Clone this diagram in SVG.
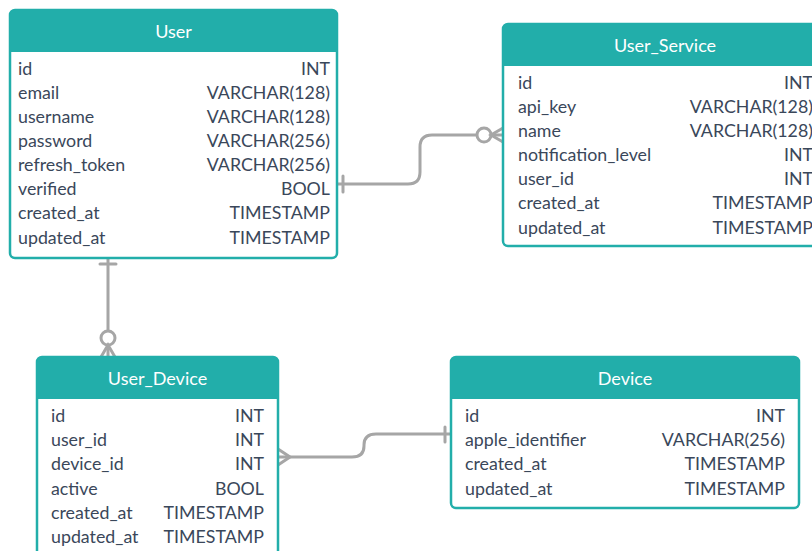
<svg xmlns="http://www.w3.org/2000/svg" width="812" height="551" viewBox="0 0 812 551">
<style>
.box{fill:#fff;stroke:#22aeaa;stroke-width:2.5}
.hdr{fill:#22aeaa}
.title{font-family:Lato,"Liberation Sans",sans-serif;font-size:18px;fill:#fff;text-anchor:middle}
.f{font-family:Lato,"Liberation Sans",sans-serif;font-size:17.8px;fill:#3a475a}
.t{font-family:Lato,"Liberation Sans",sans-serif;font-size:17.8px;fill:#3a475a;text-anchor:end}
.c{fill:none;stroke:#a6a6a6;stroke-width:3;stroke-linecap:round}
.ci{fill:#fff;stroke:#a6a6a6;stroke-width:3}
</style>
<rect width="812" height="551" fill="#fff"/>
<g id="connectors">
  <path class="c" d="M337,184 H408 Q420,184 420,172 V147 Q420,135 432,135 H503"/>
  <path class="c" d="M343,176 V192"/>
  <circle class="ci" cx="484" cy="135" r="7"/>
  <path class="c" d="M503,128 L491,135 L503,142"/>
  <path class="c" d="M108,258 V357"/>
  <path class="c" d="M100,264 H116"/>
  <circle class="ci" cx="108" cy="338" r="7"/>
  <path class="c" d="M101,357 L108,345 L115,357"/>
  <path class="c" d="M278,457 H352 Q364,457 364,446 V445 Q364,434 376,434 H451"/>
  <path class="c" d="M445,427 V442"/>
  <path class="c" d="M278,449 L290,457 L278,465"/>
</g>
<g id="User">
  <rect class="box" x="10" y="10" width="327" height="248" rx="5"/>
  <path class="hdr" d="M15,10 H332 A5,5 0 0 1 337,15 V52 H10 V15 A5,5 0 0 1 15,10 Z"/>
  <text class="title" x="173.5" y="38">User</text>
  <text class="f" x="18" y="75">id</text><text class="t" x="330" y="75">INT</text>
  <text class="f" x="18" y="99">email</text><text class="t" x="330" y="99">VARCHAR(128)</text>
  <text class="f" x="18" y="123">username</text><text class="t" x="330" y="123">VARCHAR(128)</text>
  <text class="f" x="18" y="147">password</text><text class="t" x="330" y="147">VARCHAR(256)</text>
  <text class="f" x="18" y="171">refresh_token</text><text class="t" x="330" y="171">VARCHAR(256)</text>
  <text class="f" x="18" y="195">verified</text><text class="t" x="330" y="195">BOOL</text>
  <text class="f" x="18" y="219">created_at</text><text class="t" x="330" y="219">TIMESTAMP</text>
  <text class="f" x="18" y="244">updated_at</text><text class="t" x="330" y="244">TIMESTAMP</text>
</g>
<g id="User_Service">
  <rect class="box" x="503" y="24" width="318" height="222" rx="5"/>
  <path class="hdr" d="M508,24 H816 A5,5 0 0 1 821,29 V66 H503 V29 A5,5 0 0 1 508,24 Z"/>
  <text class="title" x="665" y="52">User_Service</text>
  <text class="f" x="518" y="89">id</text><text class="t" x="813" y="89">INT</text>
  <text class="f" x="518" y="113">api_key</text><text class="t" x="813" y="113">VARCHAR(128)</text>
  <text class="f" x="518" y="137">name</text><text class="t" x="813" y="137">VARCHAR(128)</text>
  <text class="f" x="518" y="161">notification_level</text><text class="t" x="813" y="161">INT</text>
  <text class="f" x="518" y="185">user_id</text><text class="t" x="813" y="185">INT</text>
  <text class="f" x="518" y="209">created_at</text><text class="t" x="813" y="209">TIMESTAMP</text>
  <text class="f" x="518" y="234">updated_at</text><text class="t" x="813" y="234">TIMESTAMP</text>
</g>
<g id="User_Device">
  <rect class="box" x="37" y="357" width="241" height="210" rx="5"/>
  <path class="hdr" d="M42,357 H273 A5,5 0 0 1 278,362 V399 H37 V362 A5,5 0 0 1 42,357 Z"/>
  <text class="title" x="157.5" y="385">User_Device</text>
  <text class="f" x="51" y="422">id</text><text class="t" x="264" y="422">INT</text>
  <text class="f" x="51" y="446">user_id</text><text class="t" x="264" y="446">INT</text>
  <text class="f" x="51" y="470">device_id</text><text class="t" x="264" y="470">INT</text>
  <text class="f" x="51" y="495">active</text><text class="t" x="264" y="495">BOOL</text>
  <text class="f" x="51" y="519">created_at</text><text class="t" x="264" y="519">TIMESTAMP</text>
  <text class="f" x="51" y="543">updated_at</text><text class="t" x="264" y="543">TIMESTAMP</text>
</g>
<g id="Device">
  <rect class="box" x="451" y="357" width="348" height="151" rx="5"/>
  <path class="hdr" d="M456,357 H794 A5,5 0 0 1 799,362 V399 H451 V362 A5,5 0 0 1 456,357 Z"/>
  <text class="title" x="625" y="385">Device</text>
  <text class="f" x="465" y="422">id</text><text class="t" x="785" y="422">INT</text>
  <text class="f" x="465" y="446">apple_identifier</text><text class="t" x="785" y="446">VARCHAR(256)</text>
  <text class="f" x="465" y="470">created_at</text><text class="t" x="785" y="470">TIMESTAMP</text>
  <text class="f" x="465" y="495">updated_at</text><text class="t" x="785" y="495">TIMESTAMP</text>
</g>
</svg>
